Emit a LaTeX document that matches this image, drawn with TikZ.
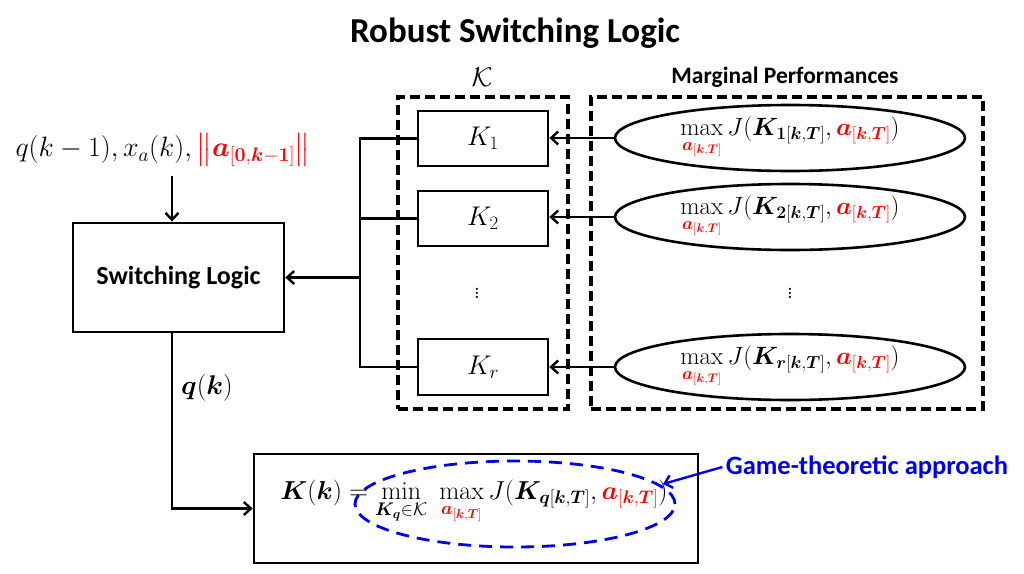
\RequirePackage{fix-cm}
\documentclass[tikz,border=0pt]{standalone}
\usepackage{amsmath,amssymb}
\usepackage{bm}
\usepackage{fontspec}
\newfontfamily\carl{Carlito}
\usetikzlibrary{arrows.meta,shapes.geometric}
\definecolor{rd}{RGB}{255,0,0}
\definecolor{bl}{RGB}{0,0,240}
\tikzset{
  box/.style={draw, line width=2.8pt, inner sep=0pt},
  dbox/.style={draw, line width=3.2pt, dash pattern=on 10pt off 5pt},
  ell/.style={draw, ellipse, line width=2.6pt, minimum width=350pt, minimum height=66pt, inner sep=0pt},
  conn/.style={line width=2.4pt},
  arr/.style={line width=2.4pt, -{Straight Barb[length=7pt,width=13pt,line width=2.4pt]}},
  mth/.style={font=\fontsize{27}{30}\selectfont},
  emth/.style={font=\fontsize{25}{28}\selectfont},
  lbl/.style={font=\carl\bfseries\fontsize{26}{30}\selectfont},
}
\newcommand{\ra}{\color{rd}\bm{a}_{[\bm{k},\bm{T}]}}
\begin{document}
\begin{tikzpicture}[x=1pt,y=-1pt]
\useasboundingbox (0,0) rectangle (1024,573);
% title
\node[font=\carl\bfseries\fontsize{35}{40}\selectfont] (title) at (515,33) {Robust Switching Logic};
% input
\node[font=\fontsize{28}{32}\selectfont, anchor=west] (inp) at (12,150) {$q(k-1), x_a(k), {\color{rd}\big\|\bm{a}_{[\bm{0},\bm{k}-\bm{1}]}\big\|}$};
% switching logic
\node[box, minimum width=211pt, minimum height=109pt, lbl] (SL) at (178.5,277.5) {Switching Logic};
\coordinate (inA) at (172,176);
\draw[arr] (inA) -- (inA |- SL.north);
% K set
\node[dbox, minimum width=170pt, minimum height=312pt] (Kset) at (483,253) {};
\node[font=\fontsize{27}{30}\selectfont] (Klab) at (482,77) {$\mathcal{K}$};
\node[box, minimum width=130pt, minimum height=55pt, mth] (K1) at (483,138.5) {$K_1$};
\node[box, minimum width=130pt, minimum height=55pt, mth] (K2) at (483,218.5) {$K_2$};
\node[box, minimum width=130pt, minimum height=56pt, mth] (Kr) at (483,367) {$K_r$};
\node[mth] (kd) at (477,290) {$\vdots$};
% marginal performances
\node[dbox, minimum width=392pt, minimum height=312pt] (MP) at (787,253) {};
\node[font=\carl\bfseries\fontsize{23.5}{27}\selectfont] (MPlab) at (785,77) {Marginal Performances};
\node[ell, emth] (E1) at (790,138) {$\max\limits_{\ra} J(\bm{K}_{\bm{1}[\bm{k},\bm{T}]}, {\ra})$};
\node[ell, emth] (E2) at (790,217) {$\max\limits_{\ra} J(\bm{K}_{\bm{2}[\bm{k},\bm{T}]}, {\ra})$};
\node[ell, emth] (E3) at (790,367) {$\max\limits_{\ra} J(\bm{K}_{\bm{r}[\bm{k},\bm{T}]}, {\ra})$};
\node[mth] (md) at (790,290) {$\vdots$};
\draw[arr] (E1.west) -- (E1.west -| K1.east);
\draw[arr] (E2.west) -- (E2.west -| K2.east);
\draw[arr] (E3.west) -- (E3.west -| Kr.east);
% trunk
\coordinate (t1) at (360,138.5);
\coordinate (tr) at (360,367);
\coordinate (tm) at (360,277.5);
\draw[conn] (K1.west) -- (t1) -- (tr) -- (Kr.west);
\draw[conn] (K2.west) -- (K2.west -| t1);
\draw[arr] (tm) -- (SL.east);
% bottom
\node[box, minimum width=444pt, minimum height=109pt] (BB) at (476,508.5) {};
\node[font=\fontsize{26}{30}\selectfont] (form) at (474,502) {$\bm{K}(\bm{k}) = \min\limits_{\bm{K_q}\in\mathcal{K}}\ \max\limits_{\ra} J(\bm{K}_{\bm{q}[\bm{k},\bm{T}]}, {\ra})$};
\draw[arr] (SL.south -| inA) |- (BB.west);
\node[font=\fontsize{27}{30}\selectfont] (qk) at (207,388) {$\bm{q}(\bm{k})$};
\node[draw=bl, ellipse, line width=2.8pt, dash pattern=on 13pt off 8pt, minimum width=320pt, minimum height=86pt] (GE) at (515,504) {};
\node[font=\carl\bfseries\fontsize{26.5}{30}\selectfont, text=bl] (GT) at (867,467) {Game-theoretic approach};
\draw[line width=2.4pt, draw=bl, -{Straight Barb[length=7pt,width=13pt,line width=2.4pt]}] (GT.west) -- (663,484);
\end{tikzpicture}
\end{document}
